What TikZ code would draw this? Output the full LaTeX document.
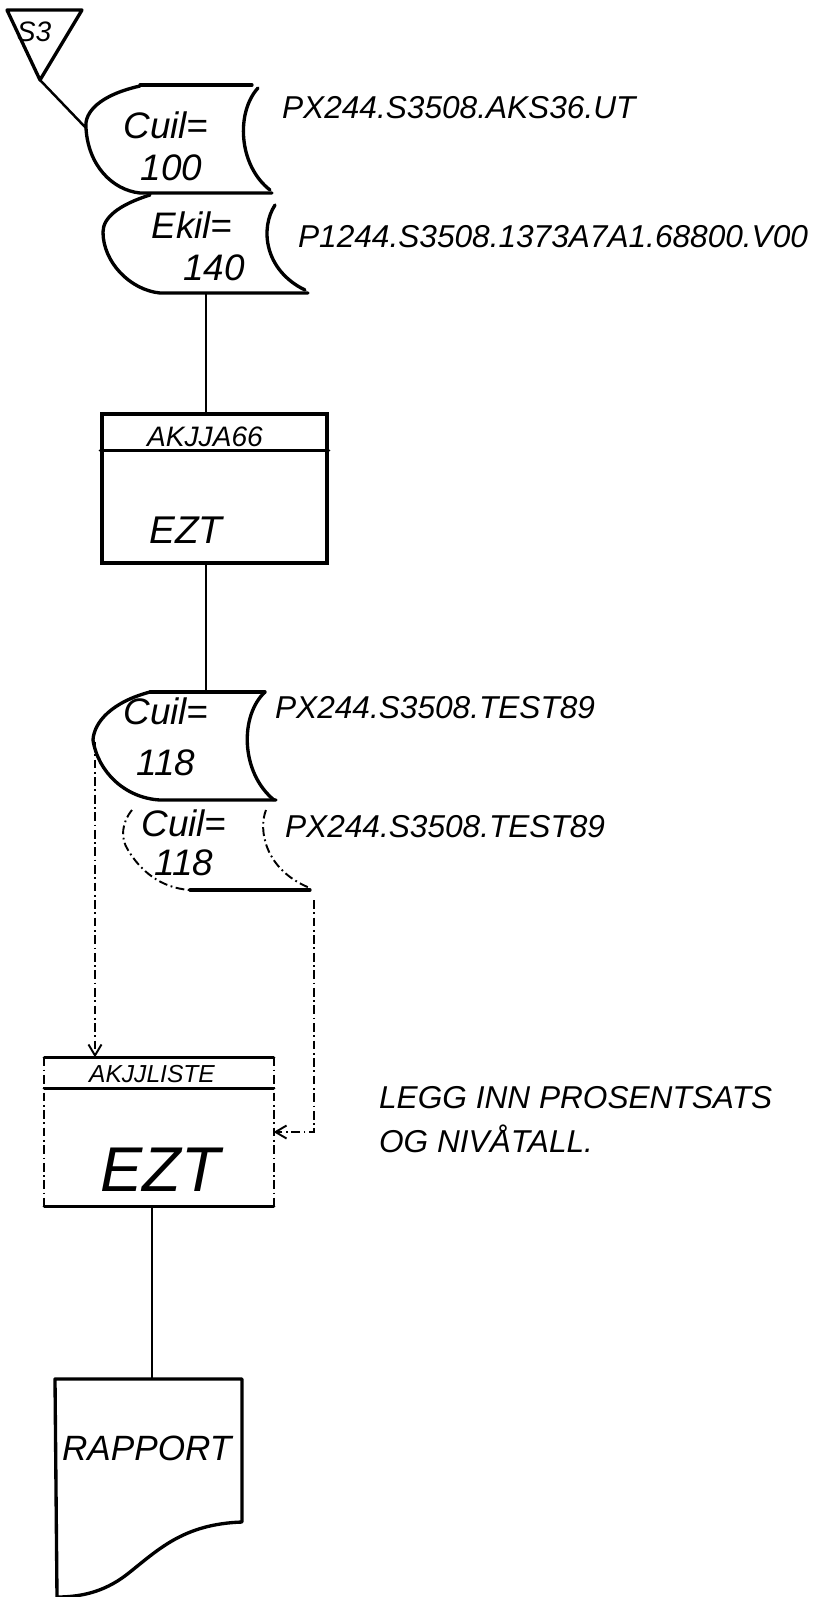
\documentclass[tikz,border=0pt]{standalone}
\usepackage{fontspec}
\setmainfont{Liberation Sans}
\usetikzlibrary{arrows.meta,positioning,calc}
\tikzset{
  tape/.style={line width=1.9pt,line join=round,line cap=round},
  ghost/.style={line width=1.1pt,dash pattern=on 5pt off 2pt on 1pt off 2pt},
  procbox/.style={draw,line width=1.9pt,minimum width=4.5cm,minimum height=2.98cm,inner sep=0pt},
  hand/.style={font=\itshape\fontsize{18}{25}\selectfont,inner sep=1pt},
  tapetext/.style={font=\itshape\fontsize{21}{22}\selectfont,align=center,inner sep=0pt},
  link/.style={line width=1.4pt},
  dashlink/.style={line width=1.1pt,dash pattern=on 5pt off 2pt on 1pt off 2pt,
    -{Straight Barb[length=2.2mm,width=2.6mm]}}
}
\begin{document}
\begin{tikzpicture}[x=0.02cm,y=-0.02cm]
  \useasboundingbox (0,0) rectangle (827,1597);
  % entry connector
  \draw[tape] (7,10) -- (82,10) -- (40,80) -- cycle;
  \node[hand,font=\itshape\fontsize{16}{18}\selectfont] (s3) at (34,32) {S3};
  \coordinate (s3tip) at (40,80);

  % input files
  \draw[tape] (140,85) -- (252,85);
  \draw[tape] (140,86) .. controls (100,95) and (84,112) .. (86,128)
    .. controls (88,165) and (112,190) .. (140,193) -- (272,193);
  \draw[tape] (258,88) .. controls (236,112) and (238,165) .. (270,190);
  \node[tapetext] (cuil100) at (166,146) {Cuil=\\[2pt]\hspace*{0.3em}100};
  \coordinate (t1w) at (86,128);
  \node[hand,anchor=west] (ds100) at (280,108) {PX244.S3508.AKS36.UT};

  \draw[tape] (150,195) .. controls (118,205) and (103,218) .. (103,232)
    .. controls (103,262) and (130,290) .. (160,293) -- (308,293);
  \draw[tape] (275,205) .. controls (260,228) and (264,270) .. (305,290);
  \node[tapetext] (ekil140) at (192,246) {Ekil=\\[2pt]\hspace*{1.2em}140};
  \coordinate (t2s) at (206,293);
  \node[hand,anchor=west] (ds140) at (296,237) {P1244.S3508.1373A7A1.68800.V00};

  \draw[link] (s3tip) -- (t1w);

  % first program
  \node[procbox] (akjja66) at (214.5,488.5) {};
  \draw[tape] ([yshift=-0.76cm]akjja66.north west) -- ([yshift=-0.76cm]akjja66.north east);
  \node[hand,font=\itshape\fontsize{16}{18}\selectfont] (hdr1) at (205,437) {AKJJA66};
  \node[hand,font=\itshape\fontsize{22}{24}\selectfont] (ezt1) at (186,530) {EZT};
  \draw[link] (t2s) -- (t2s |- akjja66.north);

  % output files
  \coordinate (t3n) at (206,692);
  \draw[tape] (150,692) -- (265,692);
  \draw[tape] (150,692) .. controls (112,702) and (94,722) .. (93,740)
    .. controls (98,772) and (125,798) .. (160,800) -- (276,800);
  \draw[tape] (265,692) .. controls (240,715) and (240,772) .. (274,800);
  \node[tapetext] (cuil118) at (166,737) {Cuil=\\[7pt]118};
  \coordinate (t3w) at (95,742);
  \node[hand,anchor=west] (ds118) at (273,708) {PX244.S3508.TEST89};
  \draw[link] (t3n |- akjja66.south) -- (t3n);

  \draw[ghost] (132,810) .. controls (122,822) and (120,838) .. (128,850)
    .. controls (140,870) and (160,888) .. (190,890);
  \draw[tape] (190,890) -- (310,890);
  \draw[ghost] (266,810) .. controls (258,830) and (265,870) .. (310,888);
  \node[tapetext] (cuil118b) at (184,843) {Cuil=\\118};
  \coordinate (t4s) at (314,900);
  \node[hand,anchor=west] (ds118b) at (283,827) {PX244.S3508.TEST89};

  % second program
  \node[procbox,draw=none,minimum width=4.52cm,minimum height=2.92cm] (akjjliste) at (159,1132) {};
  \draw[tape] (akjjliste.north west) -- (akjjliste.north east);
  \draw[tape] ([yshift=-0.62cm]akjjliste.north west) -- ([yshift=-0.62cm]akjjliste.north east);
  \draw[tape] (akjjliste.south west) -- (akjjliste.south east);
  \draw[ghost] (akjjliste.north west) -- (akjjliste.south west);
  \draw[ghost] (akjjliste.north east) -- (akjjliste.south east);
  \node[hand,font=\itshape\fontsize{14}{16}\selectfont] (hdr2) at (152,1074) {AKJJLISTE};
  \node[hand,font=\itshape\fontsize{36}{40}\selectfont] (ezt2) at (160,1170) {EZT};
  \draw[dashlink] (t3w) -- (t3w |- akjjliste.north);
  \draw[dashlink] (t4s) |- (akjjliste.east);
  \node[hand,anchor=west,align=left] (note) at (377,1120) {LEGG INN PROSENTSATS\\OG NIVÅTALL.};

  % report
  \coordinate (rp) at (152,1379);
  \draw[link] (rp |- akjjliste.south) -- (rp);
  \draw[tape] (55,1379) -- (242,1379) -- (242,1522)
    .. controls (185,1524) and (160,1548) .. (130,1572)
    .. controls (108,1590) and (85,1597) .. (57,1597) -- cycle;
  \node[hand,anchor=west,font=\itshape\fontsize{20}{24}\selectfont] (rapport) at (60,1448) {RAPPORT};
\end{tikzpicture}
\end{document}
